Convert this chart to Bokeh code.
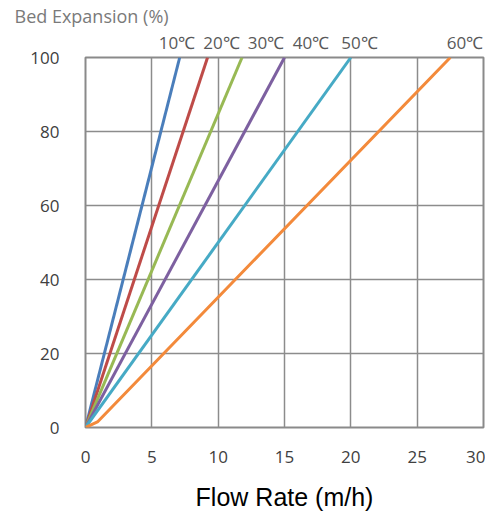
from bokeh.plotting import figure
from bokeh.models import FixedTicker, Range1d, LinearAxis
from bokeh.embed import file_html
from bokeh.resources import INLINE

# ---- data ----
temps = ["10℃", "20℃", "30℃", "40℃", "50℃", "60℃"]
flow_x = [
    [0, 7.1],
    [0, 9.2],
    [0, 11.8],
    [0, 15.0],
    [0, 20.0],
    [0, 0.9, 27.5],
]
expansion_y = [
    [0, 100],
    [0, 100],
    [0, 100],
    [0, 100],
    [0, 100],
    [0, 1.5, 100],
]
label_x = [6.9, 10.25, 13.6, 17.0, 20.65, 28.6]
x_ticks = [0, 5, 10, 15, 20, 25, 30]
y_ticks = [0, 20, 40, 60, 80, 100]
colors = ["#4A7EBB", "#BE4B48", "#98B954", "#7D60A0", "#46AAC5", "#F38A3B"]

W, H = 485, 514
p = figure(width=W, height=H, output_backend="svg", toolbar_location=None,
           x_range=Range1d(0, 30), y_range=Range1d(0, 100),
           min_border_left=85, min_border_right=W - 483,
           min_border_top=57, min_border_bottom=H - 427,
           title="Bed Expansion (%)")
p.background_fill_color = "white"
p.border_fill_color = "white"
p.outline_line_color = "#8a8a8a"
p.outline_line_width = 2

grid_col = "#8c8c8c"
p.xgrid.ticker = FixedTicker(ticks=x_ticks)
p.ygrid.ticker = FixedTicker(ticks=y_ticks)
p.xgrid.grid_line_color = grid_col
p.ygrid.grid_line_color = grid_col
p.xgrid.grid_line_width = 1.5
p.ygrid.grid_line_width = 1.5


def plain(ax):
    ax.axis_line_color = None
    ax.major_tick_line_color = None
    ax.minor_tick_line_color = None
    ax.major_tick_out = 0
    ax.major_tick_in = 0
    ax.minor_tick_out = 0
    ax.minor_tick_in = 0


for ax, ticks in ((p.xaxis[0], x_ticks), (p.yaxis[0], y_ticks)):
    ax.ticker = FixedTicker(ticks=ticks)
    plain(ax)
    ax.major_label_text_font = "Open Sans"
    ax.major_label_text_font_size = "17px"
    ax.major_label_text_color = "#404040"

p.yaxis.major_label_standoff = 26
p.xaxis.major_label_standoff = 23
p.xaxis.axis_label = "Flow Rate (m/h)"
p.xaxis.axis_label_text_font = "Liberation Sans"
p.xaxis.axis_label_text_font_style = "normal"
p.xaxis.axis_label_text_font_size = "25px"
p.xaxis.axis_label_text_color = "#000000"
p.xaxis.axis_label_standoff = 17

# temperature labels as a top axis placed at the line ends
top = LinearAxis(ticker=FixedTicker(ticks=label_x),
                 major_label_overrides={lx: t for lx, t in zip(label_x, temps)})
plain(top)
top.major_label_text_font = "Open Sans"
top.major_label_text_font_size = "17px"
top.major_label_text_color = "#595959"
top.major_label_standoff = 4
p.add_layout(top, "above")

for xs, ys, c in zip(flow_x, expansion_y, colors):
    p.line(xs, ys, line_color=c, line_width=3)

p.title.align = "left"
p.title.offset = -71
p.title.standoff = 0
p.title.text_font = "Open Sans"
p.title.text_font_style = "normal"
p.title.text_font_size = "18px"
p.title.text_color = "#7a7a7a"

open("out.html", "w").write(file_html(p, INLINE))
